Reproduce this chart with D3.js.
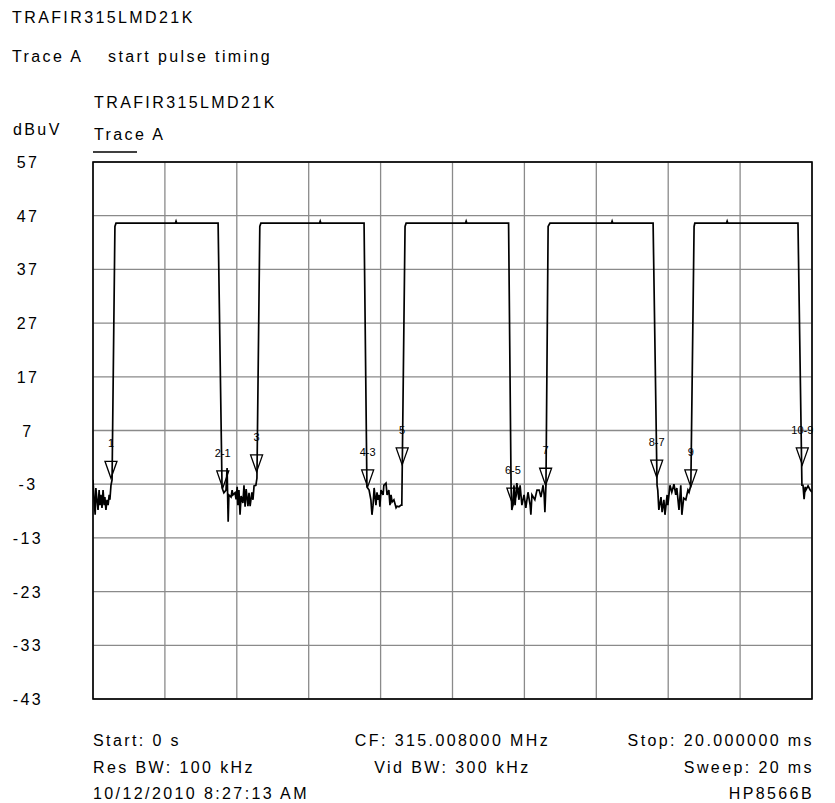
<!DOCTYPE html>
<html>
<head>
<meta charset="utf-8">
<script src="https://cdn.jsdelivr.net/npm/d3@7"></script>
<style>
  body { margin: 0; background: #fff; }
  text { font-family: "Liberation Sans", Arial, sans-serif; fill: #000; }
</style>
</head>
<body>
<svg id="chart" width="835" height="803"></svg>
<script>
// axis ticks
var xTicks = [0, 2, 4, 6, 8, 10, 12, 14, 16, 18, 20]; // ms
var yTicks = [57, 47, 37, 27, 17, 7, -3, -13, -23, -33, -43]; // dBuV

// trace A, time in ms / level in dBuV
var traceMs = [
  0, 0.03, 0.06, 0.08, 0.11, 0.14, 0.17, 0.19, 0.22, 0.25, 0.28, 0.31, 0.33, 0.36, 0.39, 0.42, 0.45, 0.47, 0.50, 0.53,
  0.61, 0.64, 2.29, 2.31, 2.33, 3.48,
  3.59, 3.64, 3.70, 3.73, 3.76, 3.78, 3.84, 3.87, 3.89, 3.95, 3.98, 4.01, 4.03, 4.06, 4.09, 4.12, 4.17, 4.20, 4.23, 4.26, 4.31, 4.34, 4.37, 4.42, 4.45, 4.48, 4.53, 4.56,
  4.64, 4.67, 6.30, 6.32, 6.34, 7.54,
  7.62, 7.68, 7.73, 7.76, 7.79, 7.82, 7.87, 7.90, 7.93, 7.96, 7.98, 8.01, 8.07, 8.09, 8.15, 8.18, 8.23, 8.26, 8.29, 8.32, 8.37, 8.43, 8.46, 8.51, 8.57, 8.59,
  8.68, 8.71, 10.36, 10.38, 10.40, 11.56,
  11.63, 11.65, 11.68, 11.71, 11.74, 11.79, 11.85, 11.88, 11.93, 11.99, 12.04, 12.10, 12.16, 12.18, 12.21, 12.29, 12.35, 12.41, 12.46, 12.52, 12.55, 12.57, 12.60,
  12.66, 12.71, 14.42, 14.44, 14.46, 15.58,
  15.69, 15.71, 15.74, 15.80, 15.83, 15.88, 15.91, 15.97, 15.99, 16.05, 16.10, 16.16, 16.21, 16.24, 16.30, 16.35, 16.38, 16.43, 16.49, 16.55, 16.58, 16.63,
  16.72, 16.74, 17.62, 17.64, 17.66, 19.61,
  19.72, 19.75, 19.78, 19.81, 19.83, 19.89, 19.95, 20.0
];
var traceDbuv = [
  -2.2, -5.9, -8.7, -3.7, -5.9, -7.8, -4.1, -6.9, -5.0, -7.4, -4.1, -6.9, -5.4, -7.8, -5.9, -6.9, -5.0, -5.9, -3.2, -2.2,
  45.0, 45.6, 45.6, 46.0, 45.6, 45.6,
  -3.7, -4.6, -4.1, 0.0, -10.0, -5.0, -5.4, -4.1, -5.0, -4.6, -5.8, -3.5, -6.9, -4.1, -8.7, -5.2, -6.5, -3.2, -7.2, -3.9, -7.1, -4.6, -7.1, -4.5, -5.9, -3.3, -3.2, -1.9,
  45.0, 45.6, 45.6, 46.0, 45.6, 45.6,
  -3.5, -4.1, -5.9, -8.7, -6.9, -3.7, -6.9, -4.5, -5.9, -5.0, -7.2, -4.1, -5.0, -3.2, -2.8, -5.0, -4.1, -6.9, -5.0, -6.3, -5.9, -7.4, -7.1, -7.2, -6.9, -6.9,
  45.0, 45.6, 45.6, 46.0, 45.6, 45.6,
  -3.7, -7.8, -6.9, -3.2, -6.9, -2.8, -5.9, -3.2, -6.9, -5.0, -7.4, -4.5, -6.9, -8.7, -5.0, -5.9, -4.1, -4.1, -5.4, -3.2, -5.0, -8.2, -3.2,
  45.0, 45.6, 45.6, 46.0, 45.6, 45.6,
  -3.2, -4.1, -7.8, -5.4, -8.2, -5.9, -8.7, -5.0, -6.9, -3.2, -4.5, -3.0, -5.0, -3.7, -7.8, -3.2, -8.7, -5.6, -5.9, -4.1, -4.5, -3.2,
  45.0, 45.6, 45.6, 46.0, 45.6, 45.6,
  -3.2, -3.2, -5.8, -3.5, -4.1, -3.3, -4.1, -4.5
];

// markers
var markerLabels = ["1", "2-1", "3", "4-3", "5", "6-5", "7", "8-7", "9", "10-9"];
var markerMs = [0.50, 3.61, 4.55, 7.64, 8.60, 11.68, 12.59, 15.68, 16.63, 19.73];
var markerDbuv = [-1.9, -3.7, -0.7, -3.5, 0.6, -6.9, -3.2, -1.7, -3.5, 0.6];

var svg = d3.select("#chart");
var plotL = 93, plotR = 812, plotT = 162, plotB = 699;

var x = d3.scaleLinear().domain([0, 20]).range([plotL, plotR]);
var y = d3.scaleLinear().domain([-43, 57]).range([plotB, plotT]);

// header texts
function label(tx, ty, s, size, anchor) {
  return svg.append("text")
    .attr("x", tx).attr("y", ty)
    .attr("font-size", size || 16)
    .attr("letter-spacing", "2.4px")
    .attr("text-anchor", anchor || "start")
    .text(s);
}
label(12, 23, "TRAFIR315LMD21K");
label(12, 62, "Trace A");
label(108, 62, "start pulse timing");
label(94, 108, "TRAFIR315LMD21K");
label(13, 135, "dBuV");
label(94, 140, "Trace A");
svg.append("line")
  .attr("x1", 93).attr("x2", 137).attr("y1", 152).attr("y2", 152)
  .attr("stroke", "#000").attr("stroke-width", 1.5);

// grid
var g = svg.append("g");
g.selectAll(".vgrid").data(xTicks).enter().append("line")
  .attr("x1", function(d) { return x(d); })
  .attr("x2", function(d) { return x(d); })
  .attr("y1", plotT).attr("y2", plotB)
  .attr("stroke", "#8a8a8a").attr("stroke-width", 1.3);
g.selectAll(".hgrid").data(yTicks).enter().append("line")
  .attr("x1", plotL).attr("x2", plotR)
  .attr("y1", function(d) { return y(d); })
  .attr("y2", function(d) { return y(d); })
  .attr("stroke", "#8a8a8a").attr("stroke-width", 1.3);

// y labels
g.selectAll(".ylab").data(yTicks).enter().append("text")
  .attr("x", 28)
  .attr("y", function(d) { return y(d) + 6; })
  .attr("font-size", 16)
  .attr("letter-spacing", "2.4px")
  .attr("text-anchor", "middle")
  .text(function(d) { return d; });

// frame
svg.append("rect")
  .attr("x", plotL).attr("y", plotT)
  .attr("width", plotR - plotL).attr("height", plotB - plotT)
  .attr("fill", "none").attr("stroke", "#000").attr("stroke-width", 1.6);

// trace
svg.append("clipPath").attr("id", "clip").append("rect")
  .attr("x", plotL).attr("y", plotT).attr("width", plotR - plotL).attr("height", plotB - plotT);

var line = d3.line()
  .x(function(d, i) { return x(traceMs[i]); })
  .y(function(d) { return y(d); });

svg.append("path")
  .datum(traceDbuv)
  .attr("clip-path", "url(#clip)")
  .attr("d", line)
  .attr("fill", "none")
  .attr("stroke", "#000")
  .attr("stroke-width", 1.7)
  .attr("stroke-linejoin", "miter");

// marker triangles
var mk = svg.append("g");
markerLabels.forEach(function(name, i) {
  var mx = x(markerMs[i]), my = y(markerDbuv[i]);
  mk.append("path")
    .attr("d", "M" + (mx - 6) + "," + (my - 17) + "L" + (mx + 6) + "," + (my - 17) + "L" + mx + "," + my + "Z")
    .attr("fill", "none").attr("stroke", "#000").attr("stroke-width", 1.3);
  mk.append("text")
    .attr("x", mx).attr("y", my - 31)
    .attr("font-size", 11)
    .attr("text-anchor", "middle")
    .text(name);
});

// footer
label(93, 746, "Start: 0 s");
label((plotL + plotR) / 2, 746, "CF: 315.008000 MHz", 16, "middle");
label(plotR + 2, 746, "Stop: 20.000000 ms", 16, "end");
label(93, 773, "Res BW: 100 kHz");
label((plotL + plotR) / 2, 773, "Vid BW: 300 kHz", 16, "middle");
label(plotR + 2, 773, "Sweep: 20 ms", 16, "end");
label(93, 799, "10/12/2010 8:27:13 AM");
label(plotR + 2, 799, "HP8566B", 16, "end");
</script>
</body>
</html>
